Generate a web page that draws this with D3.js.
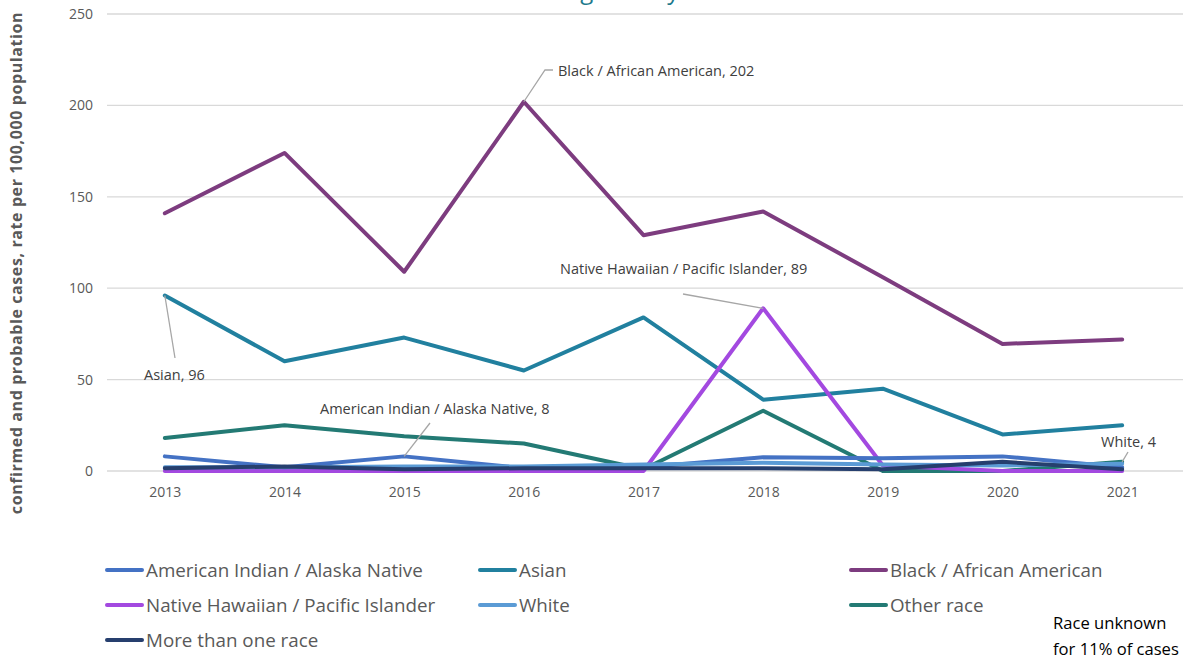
<!DOCTYPE html>
<html>
<head>
<meta charset="utf-8">
<script src="https://cdn.jsdelivr.net/npm/d3@7"></script>
<style>
  body { margin: 0; background: #fff; }
  text { font-family: "Open Sans", sans-serif; }
</style>
</head>
<body>
<script>
// Case rates by race, 2013-2021
const years = [2013, 2014, 2015, 2016, 2017, 2018, 2019, 2020, 2021];

const aian     = [8, 2, 8, 1.5, 2, 7.5, 7, 8, 2];
const asian    = [96, 60, 73, 55, 84, 39, 45, 20, 25];
const black    = [141, 174, 109, 202, 129, 142, 106, 69.5, 72];
const nhpi     = [0, 0, 0, 0, 0, 89, 3, 0, 0];
const white    = [2, 2, 2.5, 2.5, 3.5, 4.5, 3.5, 3, 4];
const other    = [18, 25, 19, 15, 1, 33, 0, 0, 5];
const multi    = [1.5, 2.5, 1, 1.5, 1.5, 1.5, 1, 5, 1];

const yTicks = [0, 50, 100, 150, 200, 250];

const series = [
  {name: 'American Indian / Alaska Native', values: aian, color: '#4472c4'},
  {name: 'Asian', values: asian, color: '#21809f'},
  {name: 'Black / African American', values: black, color: '#7d3c7f'},
  {name: 'Native Hawaiian / Pacific Islander', values: nhpi, color: '#a349e0'},
  {name: 'White', values: white, color: '#5b9bd5'},
  {name: 'Other race', values: other, color: '#237a74'},
  {name: 'More than one race', values: multi, color: '#263f6e'}
];

// draw order (back to front), roughly as in the original
const drawOrder = [2, 1, 5, 3, 0, 4, 6];

const width = 1183, height = 660;
const margin = {top: 14, right: 1, bottom: 189, left: 105};

const svg = d3.select('body').append('svg')
  .attr('width', width)
  .attr('height', height);

const x = d3.scalePoint()
  .domain(years)
  .range([margin.left, width - margin.right])
  .padding(0.5);

const y = d3.scaleLinear()
  .domain([0, 250])
  .range([height - margin.bottom, margin.top]);

// title, mostly clipped off the top of the frame like the original
svg.append('text')
  .attr('x', 612)
  .attr('y', -1)
  .attr('text-anchor', 'middle')
  .style('font-size', '24px')
  .style('fill', '#1f7a8c')
  .text('King County');

// gridlines
svg.append('g')
  .selectAll('line')
  .data(yTicks)
  .join('line')
  .attr('x1', margin.left + 2)
  .attr('x2', width)
  .attr('y1', (d) => y(d))
  .attr('y2', (d) => y(d))
  .attr('stroke', '#d9d9d9')
  .attr('stroke-width', 1.3);

// y axis labels
const yAxis = svg.append('g')
  .attr('transform', `translate(${margin.left - 12},0)`)
  .call(d3.axisLeft(y).tickValues(yTicks).tickSize(0).tickPadding(0));
yAxis.select('.domain').remove();
yAxis.selectAll('text')
  .style('font-size', '14px')
  .style('fill', '#595959');

// x axis labels
const xAxis = svg.append('g')
  .attr('transform', `translate(0,${y(0) + 16})`)
  .call(d3.axisBottom(x).tickSize(0).tickPadding(0));
xAxis.select('.domain').remove();
xAxis.selectAll('text')
  .style('font-size', '14px')
  .style('fill', '#595959');

// y axis title
svg.append('text')
  .attr('transform', `translate(22,${263}) rotate(-90)`)
  .attr('text-anchor', 'middle')
  .style('font-size', '16px')
  .style('font-weight', 'bold')
  .style('letter-spacing', '0.6px')
  .style('fill', '#595959')
  .text('confirmed and probable cases, rate per 100,000 population');

// lines
const line = d3.line()
  .x((d, i) => x(years[i]))
  .y((d) => y(d));

svg.append('g')
  .selectAll('path')
  .data(drawOrder.map((i) => series[i]))
  .join('path')
  .attr('d', (d) => line(d.values))
  .attr('fill', 'none')
  .attr('stroke', (d) => d.color)
  .attr('stroke-width', 4)
  .attr('stroke-linejoin', 'round')
  .attr('stroke-linecap', 'round');

// data labels with leader lines
const labels = [
  {s: 2, year: 2016, text: 'Black / African American, 202', tx: 558, ty: 71, pts: [[545, 70], [553, 70]]},
  {s: 3, year: 2018, text: 'Native Hawaiian / Pacific Islander, 89', tx: 560, ty: 269, pts: [[683, 294]]},
  {s: 1, year: 2013, text: 'Asian, 96', tx: 144, ty: 375, pts: [[175, 358]]},
  {s: 0, year: 2015, text: 'American Indian / Alaska Native, 8', tx: 320, ty: 409, pts: [[430, 423]]},
  {s: 4, year: 2021, text: 'White, 4', tx: 1101, ty: 442, pts: [[1128, 452]]}
];

const ann = svg.append('g');
labels.forEach((l) => {
  const i = years.indexOf(l.year);
  const px = x(l.year);
  const py = l.s === 4 ? y(other[i]) : y(series[l.s].values[i]);
  ann.append('path')
    .attr('d', d3.line()([[px, py], ...l.pts]))
    .attr('fill', 'none')
    .attr('stroke', '#a6a6a6')
    .attr('stroke-width', 1.3);
  ann.append('text')
    .attr('x', l.tx)
    .attr('y', l.ty)
    .attr('dy', '0.35em')
    .style('font-size', '14.5px')
    .style('fill', '#404040')
    .text(l.text);
});

// legend
const legendCols = [107, 480, 851];
const legendRows = [570, 605, 640];

const legend = svg.append('g')
  .selectAll('g')
  .data(series)
  .join('g')
  .attr('transform', (d, i) => `translate(${legendCols[i % 3]},${legendRows[Math.floor(i / 3)]})`);

legend.append('line')
  .attr('x1', 0)
  .attr('x2', 35)
  .attr('stroke', (d) => d.color)
  .attr('stroke-width', 4)
  .attr('stroke-linecap', 'round');

legend.append('text')
  .attr('x', 39)
  .attr('dy', '0.35em')
  .style('font-size', '18.8px')
  .style('fill', '#595959')
  .text((d) => d.name);

// note
const note = svg.append('text')
  .attr('x', 1053)
  .attr('y', 623)
  .attr('dy', '0.35em')
  .style('font-size', '16.6px')
  .style('fill', '#000');
note.append('tspan').attr('x', 1053).text('Race unknown');
note.append('tspan').attr('x', 1053).attr('dy', '26px').text('for 11% of cases');
</script>
</body>
</html>
